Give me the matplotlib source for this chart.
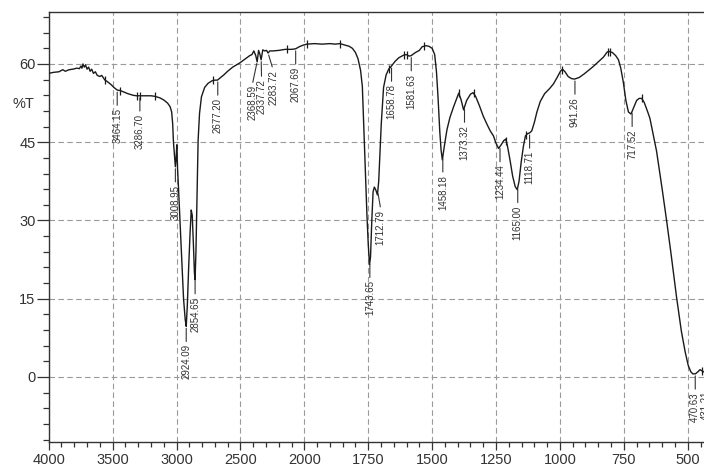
import numpy as np
import matplotlib
matplotlib.use('Agg')
import matplotlib.pyplot as plt
from matplotlib.ticker import FixedLocator, MultipleLocator

plt.rcParams['font.family'] = ['Liberation Sans', 'DejaVu Sans']

# spectrum (cm-1, %T)
wavenumber = [4000, 3960, 3920, 3890, 3870, 3840, 3810, 3780, 3760, 3748, 3740, 3732,
              3722, 3712, 3700, 3688, 3676, 3664, 3650, 3635, 3620, 3600, 3585, 3560,
              3540, 3510, 3490, 3464, 3440, 3410, 3380, 3340, 3313, 3287, 3250, 3200,
              3170, 3130, 3100, 3070, 3050, 3038, 3030, 3024, 3016, 3009, 3003, 2998,
              2992, 2985, 2975, 2960, 2945, 2932, 2924, 2915, 2905, 2895, 2885, 2877,
              2868, 2860, 2855, 2848, 2840, 2831, 2820, 2805, 2780, 2753, 2720, 2700,
              2680, 2660, 2630, 2600, 2560, 2505, 2460, 2427, 2410, 2395, 2380, 2369,
              2358, 2348, 2338, 2325, 2310, 2295, 2284, 2270, 2245, 2200, 2150, 2100,
              2068, 2040, 2010, 1990, 1960, 1930, 1900, 1880, 1860, 1840, 1825, 1812,
              1800, 1790, 1780, 1773, 1767, 1760, 1755, 1750, 1745, 1741, 1736, 1731,
              1726, 1720, 1714, 1709, 1704, 1699, 1690, 1680, 1670, 1659, 1645, 1630,
              1611, 1600, 1590, 1582, 1565, 1550, 1539, 1525, 1513, 1500, 1490, 1483,
              1477, 1470, 1465, 1460, 1453, 1442, 1430, 1416, 1405, 1396, 1387, 1377,
              1365, 1350, 1340, 1330, 1315, 1300, 1285, 1273, 1260, 1250, 1240, 1230,
              1220, 1212, 1205, 1195, 1185, 1175, 1167, 1160, 1152, 1143, 1135, 1128,
              1118, 1110, 1100, 1090, 1077, 1060, 1040, 1025, 1010, 998, 990, 980,
              968, 955, 943, 925, 905, 885, 870, 850, 830, 815, 808, 795,
              782, 771, 762, 752, 742, 732, 722, 712, 700, 690, 680, 670,
              658, 648, 635, 622, 600, 583, 565, 544, 525, 510, 498, 488,
              480, 470, 460, 452, 445, 435, 420]
transmittance = [58.2, 58.4, 58.5, 58.9, 58.6, 58.9, 59.0, 59.2, 59.1, 59.6, 59.2, 60.0,
                 59.4, 59.8, 59.0, 59.4, 58.6, 59.0, 58.2, 58.5, 57.8, 57.6, 57.8, 56.9,
                 56.6, 56.0, 55.5, 55.0, 54.9, 54.6, 54.3, 54.0, 53.9, 53.9, 53.9, 53.9,
                 53.8, 53.5, 53.1, 52.5, 51.8, 50.8, 48.5, 45.0, 42.5, 40.3, 42.0, 44.5,
                 40.0, 36.5, 31.0, 23.0, 15.0, 11.0, 9.7, 14.0, 21.0, 27.0, 32.0, 31.0,
                 25.5, 20.0, 18.6, 24.0, 34.0, 45.4, 50.5, 53.7, 55.5, 56.3, 56.8, 56.9,
                 56.9, 57.3, 57.9, 58.6, 59.4, 60.2, 61.0, 61.6, 61.8, 62.5, 61.6, 60.4,
                 62.6, 61.9, 60.8, 62.7, 62.5, 62.6, 62.1, 62.5, 62.5, 62.6, 62.8, 62.8,
                 62.9, 63.3, 63.6, 63.8, 63.9, 63.8, 63.9, 63.8, 63.9, 63.6, 63.4, 63.0,
                 62.2, 61.0, 58.8, 55.7, 47.4, 38.0, 31.0, 25.5, 21.5, 23.0, 30.0, 35.5,
                 36.4, 35.8, 34.9, 37.5, 43.0, 48.5, 55.5, 57.9, 59.0, 59.6, 60.5, 61.2,
                 61.7, 61.8, 61.5, 61.6, 62.2, 62.6, 63.3, 63.5, 63.4, 63.0, 61.8, 58.5,
                 53.7, 47.0, 43.5, 41.6, 44.0, 47.4, 49.8, 51.8, 53.2, 54.4, 53.2, 51.2,
                 53.0, 54.2, 54.5, 53.8, 52.0, 50.0, 48.4, 47.2, 46.2, 44.8, 43.8, 44.5,
                 45.3, 45.6, 44.2, 41.5, 38.5, 36.5, 35.9, 37.5, 41.0, 44.2, 46.2, 46.6,
                 46.8, 47.2, 48.8, 50.8, 52.8, 54.3, 55.3, 56.2, 57.5, 58.6, 59.0, 58.5,
                 57.6, 57.2, 57.1, 57.4, 58.1, 58.9, 59.5, 60.4, 61.3, 62.3, 62.4, 62.2,
                 61.6, 60.8, 59.2, 56.5, 53.0, 50.8, 50.4, 51.6, 53.0, 53.4, 53.4, 52.6,
                 51.0, 49.6, 46.5, 43.3, 36.0, 30.1, 23.5, 15.4, 8.8, 4.8, 2.2, 1.0,
                 0.6, 0.6, 1.0, 1.4, 1.2, 0.9, 0.9]

# picked peaks
peak_wn = [3464.15, 3286.70, 3008.95, 2924.09, 2854.65, 2677.20, 2368.59, 2337.72,
           2283.72, 2067.69, 1743.65, 1712.79, 1658.78, 1581.63, 1458.18, 1373.32,
           1234.44, 1165.00, 1118.71, 941.26, 717.52, 470.63, 431.21]
peak_text = ["3464.15", "3286.70", "3008.95", "2924.09", "2854.65", "2677.20", "2368.59",
             "2337.72", "2283.72", "2067.69", "1743.65", "1712.79", "1658.78", "1581.63",
             "1458.18", "1373.32", "1234.44", "1165.00", "1118.71", "941.26", "717.52",
             "470.63", "431.21"]

# little bars the software puts on the trace
mark_wn = [3560, 3443, 3313, 3287, 3170, 2714, 2136, 1991, 1861, 1669, 1611, 1600,
           1532, 1396, 1338, 1210, 1132, 992, 812, 806, 680, 446]

x_major = [4000, 3500, 3000, 2500, 2000, 1750, 1500, 1250, 1000, 750, 500]


# x axis is squeezed by 2 above 2000 cm-1
def fwd(x):
    x = np.asarray(x, dtype=float)
    return np.where(x > 2000, 2000 + (x - 2000) / 2.0, x)


def inv(x):
    x = np.asarray(x, dtype=float)
    return np.where(x > 2000, 2000 + (x - 2000) * 2.0, x)


wn = np.array(wavenumber)
tr = np.array(transmittance)

fig = plt.figure(figsize=(7.04, 4.66), dpi=100)
ax = fig.add_axes([0.0692, 0.0511, 0.944, 0.9236])
ax.set_xscale('function', functions=(fwd, inv))
ax.set_xlim(4000, 400)
ax.set_ylim(-12.5, 70)

ax.plot(wn, tr, color='#1a1a1a', lw=1.0, zorder=3)

# peak marks
my = np.interp(mark_wn, wn[::-1], tr[::-1])
ax.plot(mark_wn, my, ls='none', marker='|', ms=6, mew=0.9, color='#1a1a1a', zorder=4)

# labels, a few are pushed sideways where they crowd
shift = {"2368.59": (-3.6, 17), "2337.72": (0.3, 14), "2283.72": (3.6, 12),
         "1712.79": (2.2, 13)}
py = np.interp(peak_wn, wn[::-1], tr[::-1])
for w, t, v in zip(peak_wn, peak_text, py):
    dx, dy = shift.get(t, (0, 13))
    ax.annotate(t, xy=(w, v), xytext=(dx, -dy), textcoords='offset points',
                rotation=90, ha='center', va='top', fontsize=7, color='#333333',
                annotation_clip=False,
                arrowprops=dict(arrowstyle='-', color='#333333', lw=0.8,
                                shrinkA=0, shrinkB=1.5, relpos=(0.5, 1.0)))

ax.xaxis.set_major_locator(FixedLocator(x_major))
ax.xaxis.set_minor_locator(FixedLocator(list(range(3900, 2000, -100)) +
                                        list(range(1950, 400, -50))))
ax.set_xticklabels([str(v) for v in x_major])
ax.yaxis.set_major_locator(MultipleLocator(15))
ax.yaxis.set_minor_locator(MultipleLocator(3))

ax.tick_params(axis='x', which='major', length=5.5, width=0.9, pad=2,
               labelsize=10.5, colors='#333333')
ax.tick_params(axis='x', which='minor', length=3.6, width=0.9, colors='#333333')
ax.tick_params(axis='y', which='major', length=8.6, width=0.9, pad=1,
               labelsize=10.5, colors='#333333')
ax.tick_params(axis='y', which='minor', length=4.3, width=0.9, colors='#333333')

ax.grid(True, which='major', color='#9a9a9a', ls=(0, (5, 3)), lw=0.8)
for s in ax.spines.values():
    s.set_color('#333333')
    s.set_linewidth(1.0)

fig.text(23 / 704, 1 - 104 / 466, '%T', ha='center', va='center', fontsize=10.5,
         color='#333333')

fig.savefig('out.png', dpi=100)
